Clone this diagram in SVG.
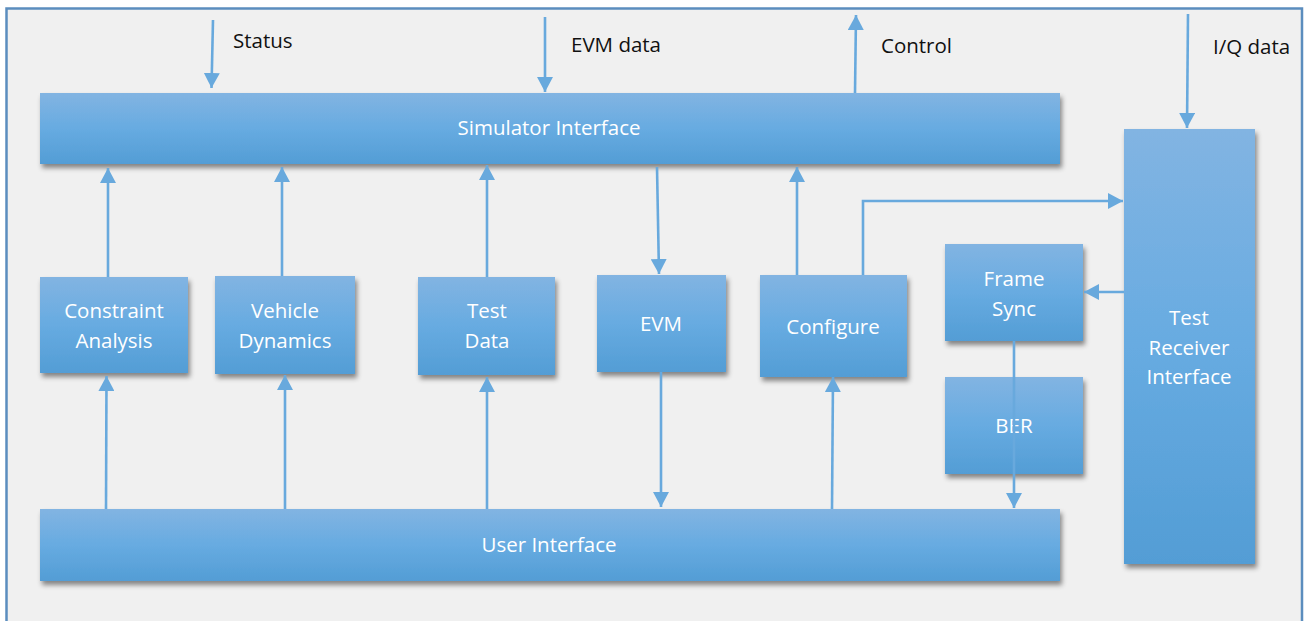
<svg xmlns="http://www.w3.org/2000/svg" width="1304" height="621" viewBox="0 0 1304 621">
  <defs>
    <linearGradient id="boxFill" x1="0" y1="0" x2="0" y2="1">
      <stop offset="0" stop-color="#82b4e2"/>
      <stop offset="0.5" stop-color="#67abe1"/>
      <stop offset="1" stop-color="#539dd5"/>
    </linearGradient>
    <filter id="shadow" x="-10%" y="-10%" width="125%" height="140%">
      <feDropShadow dx="2" dy="4" stdDeviation="2.5" flood-color="#000" flood-opacity="0.45"/>
    </filter>
    <marker id="arrow" markerUnits="userSpaceOnUse" markerWidth="16" markerHeight="16" viewBox="0 0 16 16" refX="15" refY="8" orient="auto">
      <path d="M0,0 L15,8 L0,16 z" fill="#68a9dd"/>
    </marker>
    <style>
      .box { fill: url(#boxFill); filter: url(#shadow); }
      .lbl { font-family: "Open Sans", "Liberation Sans", sans-serif; font-size: 20.5px; fill: #ffffff; text-anchor: middle; }
      .ext { font-family: "Open Sans", "Liberation Sans", sans-serif; font-size: 20.5px; fill: #111111; }
      .conn { fill: none; stroke: #68a9dd; stroke-width: 2.6; marker-end: url(#arrow); }
    </style>
  </defs>

  <!-- page background and frame -->
  <rect x="0" y="0" width="1304" height="621" fill="#ffffff"/>
  <rect x="6.5" y="8.5" width="1295.5" height="630" fill="#f0f0f0" stroke="#5b8dbe" stroke-width="2.5"/>

  <!-- external signal labels -->
  <g id="labels">
    <text class="ext" x="233" y="48">Status</text>
    <text class="ext" x="571" y="52">EVM data</text>
    <text class="ext" x="881" y="53">Control</text>
    <text class="ext" x="1213" y="54">I/Q data</text>
  </g>

  <g id="simulator-interface">
    <rect class="box" x="40" y="93" width="1020" height="71"/>
    <text class="lbl" x="549" y="135">Simulator Interface</text>
  </g>

  <g id="user-interface">
    <rect class="box" x="40" y="509" width="1020" height="72"/>
    <text class="lbl" x="549" y="552">User Interface</text>
  </g>

  <g id="constraint-analysis">
    <rect class="box" x="40" y="277" width="148" height="96"/>
    <text class="lbl" x="114" y="318">Constraint</text>
    <text class="lbl" x="114" y="348">Analysis</text>
  </g>

  <g id="vehicle-dynamics">
    <rect class="box" x="215" y="276" width="140" height="98"/>
    <text class="lbl" x="285" y="318">Vehicle</text>
    <text class="lbl" x="285" y="348">Dynamics</text>
  </g>

  <g id="test-data">
    <rect class="box" x="418" y="277" width="137" height="98"/>
    <text class="lbl" x="487" y="318">Test</text>
    <text class="lbl" x="487" y="348">Data</text>
  </g>

  <g id="evm">
    <rect class="box" x="597" y="275" width="129" height="97"/>
    <text class="lbl" x="661" y="331">EVM</text>
  </g>

  <g id="configure">
    <rect class="box" x="760" y="275" width="147" height="102"/>
    <text class="lbl" x="833" y="334">Configure</text>
  </g>

  <g id="frame-sync">
    <rect class="box" x="945" y="244" width="138" height="97"/>
    <text class="lbl" x="1014" y="286">Frame</text>
    <text class="lbl" x="1014" y="316">Sync</text>
  </g>

  <g id="ber">
    <rect class="box" x="945" y="377" width="138" height="97"/>
    <text class="lbl" x="1014" y="433">BER</text>
  </g>

  <g id="test-receiver-interface">
    <rect class="box" x="1124" y="129" width="131" height="435"/>
    <text class="lbl" x="1189" y="325">Test</text>
    <text class="lbl" x="1189" y="355">Receiver</text>
    <text class="lbl" x="1189" y="384">Interface</text>
  </g>

  <!-- connectors -->
  <g id="connectors">
    <path class="conn" d="M213,20 L211.5,88"/>
    <path class="conn" d="M545,17 L545,92"/>
    <path class="conn" d="M855,93 L856,15"/>
    <path class="conn" d="M1188,14 L1187,128"/>

    <path class="conn" d="M108,277 L108,168"/>
    <path class="conn" d="M282,276 L282,167"/>
    <path class="conn" d="M487,277 L487,165"/>
    <path class="conn" d="M657,167 L659,274"/>
    <path class="conn" d="M797,275 L797,167"/>
    <path class="conn" d="M863,275 L863,201 L1123,201"/>
    <path class="conn" d="M1124,292 L1084,292"/>
    <path class="conn" d="M1014,341 L1014,508"/>

    <path class="conn" d="M106,509 L106.5,376"/>
    <path class="conn" d="M285,509 L285,375"/>
    <path class="conn" d="M487,509 L487,377"/>
    <path class="conn" d="M661,372 L661,507"/>
    <path class="conn" d="M832,509 L833,377"/>
  </g>
</svg>
